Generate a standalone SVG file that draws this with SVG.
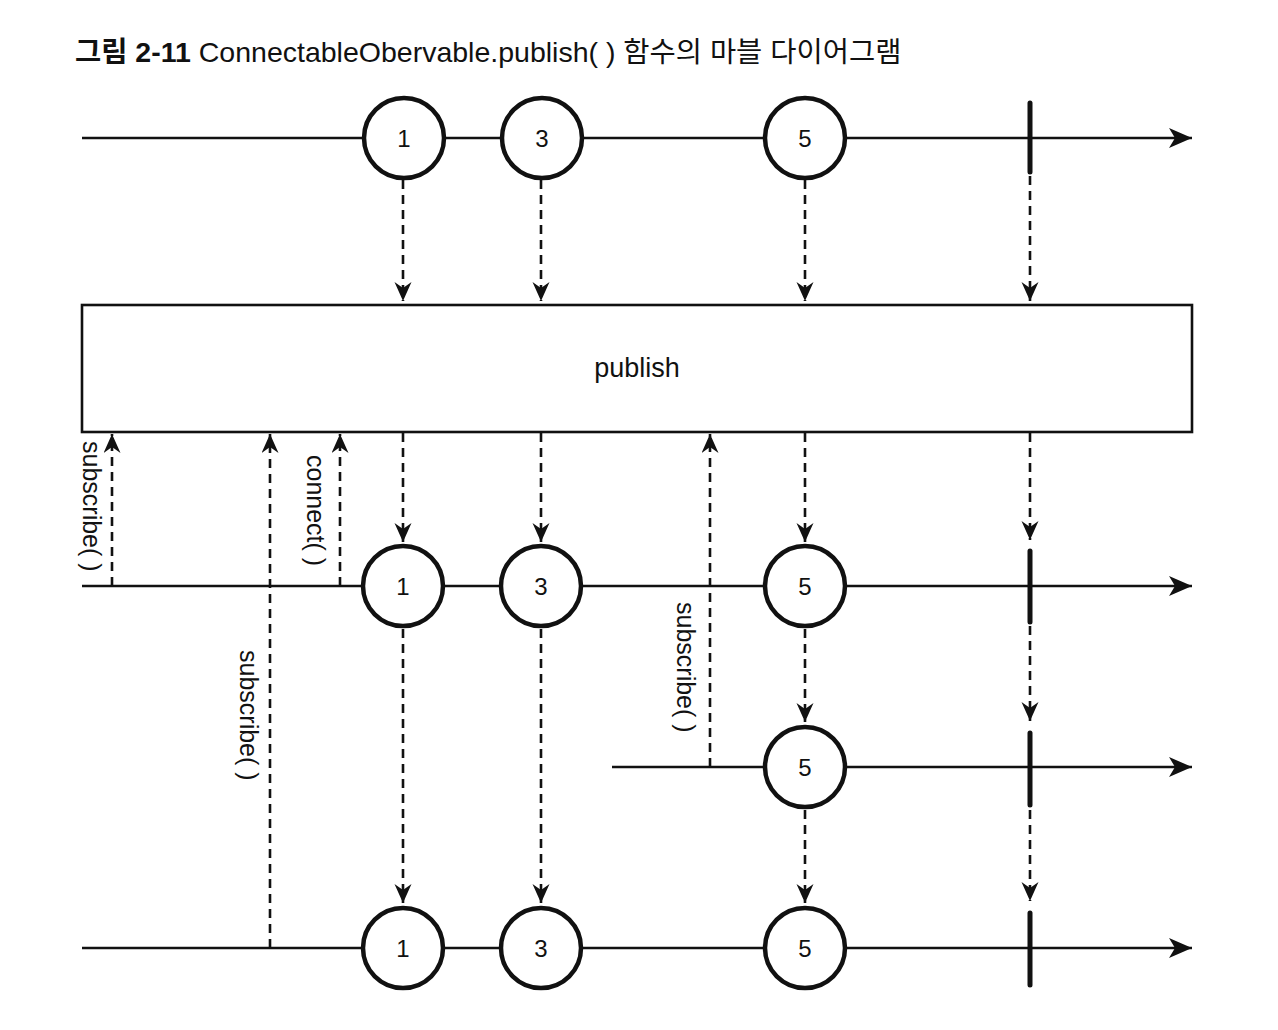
<svg xmlns="http://www.w3.org/2000/svg" width="1278" height="1030" viewBox="0 0 1278 1030">
<style>
text{font-family:"Liberation Sans","Noto Sans CJK KR",sans-serif;fill:#111}
.title{font-size:28.5px}
.tb{font-weight:bold}
.num{font-size:24px;text-anchor:middle;dominant-baseline:central}
.lbl{font-size:25px}
.tl{stroke:#111;stroke-width:2.6;fill:none}
.dash{stroke:#111;stroke-width:2.6;stroke-dasharray:9 6;fill:none}
.marble{fill:#fff;stroke:#111;stroke-width:4.5}
.bar{stroke:#111;stroke-width:5;stroke-linecap:round}
</style>
<defs>
<marker id="tArrow" markerUnits="userSpaceOnUse" markerWidth="26" markerHeight="22" refX="23" refY="10" orient="auto">
<path d="M0,0 L23,10 L0,20 L6,10 Z" fill="#111"/>
</marker>
<marker id="dArrow" markerUnits="userSpaceOnUse" markerWidth="22" markerHeight="20" refX="19" refY="8.5" orient="auto">
<path d="M0,0 L19,8.5 L0,17 L6,8.5 Z" fill="#111"/>
</marker>
</defs>
<rect width="1278" height="1030" fill="#fff"/>
<text class="title" x="75" y="62"><tspan class="tb">그림 2-11</tspan> ConnectableObervable.publish( ) 함수의 마블 다이어그램</text>

<g id="connectors">
<!-- timelines -->
<line class="tl" x1="82" y1="138" x2="1192" y2="138" marker-end="url(#tArrow)"/>
<line class="tl" x1="82" y1="586" x2="1192" y2="586" marker-end="url(#tArrow)"/>
<line class="tl" x1="612" y1="767" x2="1192" y2="767" marker-end="url(#tArrow)"/>
<line class="tl" x1="82" y1="948" x2="1192" y2="948" marker-end="url(#tArrow)"/>
<!-- top row into publish -->
<line class="dash" x1="403" y1="180" x2="403" y2="301" marker-end="url(#dArrow)"/>
<line class="dash" x1="541" y1="180" x2="541" y2="301" marker-end="url(#dArrow)"/>
<line class="dash" x1="805" y1="180" x2="805" y2="301" marker-end="url(#dArrow)"/>
<line class="dash" x1="1030" y1="176" x2="1030" y2="301" marker-end="url(#dArrow)"/>
<!-- publish to row 2 -->
<line class="dash" x1="403" y1="433" x2="403" y2="542" marker-end="url(#dArrow)"/>
<line class="dash" x1="541" y1="433" x2="541" y2="542" marker-end="url(#dArrow)"/>
<line class="dash" x1="805" y1="433" x2="805" y2="542" marker-end="url(#dArrow)"/>
<line class="dash" x1="1030" y1="433" x2="1030" y2="540" marker-end="url(#dArrow)"/>
<!-- row 2 to row 3 -->
<line class="dash" x1="805" y1="629" x2="805" y2="722" marker-end="url(#dArrow)"/>
<line class="dash" x1="1030" y1="626" x2="1030" y2="721" marker-end="url(#dArrow)"/>
<!-- row 2 to row 4 -->
<line class="dash" x1="403" y1="629" x2="403" y2="903" marker-end="url(#dArrow)"/>
<line class="dash" x1="541" y1="629" x2="541" y2="903" marker-end="url(#dArrow)"/>
<!-- row 3 to row 4 -->
<line class="dash" x1="805" y1="810" x2="805" y2="903" marker-end="url(#dArrow)"/>
<line class="dash" x1="1030" y1="810" x2="1030" y2="901" marker-end="url(#dArrow)"/>
<!-- subscribe / connect up arrows -->
<line class="dash" x1="112" y1="586" x2="112" y2="434" marker-end="url(#dArrow)"/>
<line class="dash" x1="270" y1="948" x2="270" y2="434" marker-end="url(#dArrow)"/>
<line class="dash" x1="340" y1="586" x2="340" y2="434" marker-end="url(#dArrow)"/>
<line class="dash" x1="710" y1="767" x2="710" y2="434" marker-end="url(#dArrow)"/>
</g>

<g id="labels">
<text class="lbl" transform="translate(83,441) rotate(90)">subscribe( )</text>
<text class="lbl" transform="translate(307,455) rotate(90)">connect( )</text>
<text class="lbl" transform="translate(240,650) rotate(90)">subscribe( )</text>
<text class="lbl" transform="translate(677,602) rotate(90)">subscribe( )</text>
</g>

<g id="publish">
<rect x="82" y="305" width="1110" height="127" fill="#fff" stroke="#111" stroke-width="2.6"/>
<text x="637" y="377" font-size="27" text-anchor="middle">publish</text>
</g>

<g id="row1">
<g id="r1-m1"><circle class="marble" cx="404" cy="138" r="40"/><text class="num" x="404" y="138">1</text></g>
<g id="r1-m3"><circle class="marble" cx="542" cy="138" r="40"/><text class="num" x="542" y="138">3</text></g>
<g id="r1-m5"><circle class="marble" cx="805" cy="138" r="40"/><text class="num" x="805" y="138">5</text></g>
<line id="r1-end" class="bar" x1="1030" y1="103" x2="1030" y2="172"/>
</g>

<g id="row2">
<g id="r2-m1"><circle class="marble" cx="403" cy="586" r="40"/><text class="num" x="403" y="586">1</text></g>
<g id="r2-m3"><circle class="marble" cx="541" cy="586" r="40"/><text class="num" x="541" y="586">3</text></g>
<g id="r2-m5"><circle class="marble" cx="805" cy="586" r="40"/><text class="num" x="805" y="586">5</text></g>
<line id="r2-end" class="bar" x1="1030" y1="551" x2="1030" y2="622"/>
</g>

<g id="row3">
<g id="r3-m5"><circle class="marble" cx="805" cy="767" r="40"/><text class="num" x="805" y="767">5</text></g>
<line id="r3-end" class="bar" x1="1030" y1="733" x2="1030" y2="805"/>
</g>

<g id="row4">
<g id="r4-m1"><circle class="marble" cx="403" cy="948" r="40"/><text class="num" x="403" y="948">1</text></g>
<g id="r4-m3"><circle class="marble" cx="541" cy="948" r="40"/><text class="num" x="541" y="948">3</text></g>
<g id="r4-m5"><circle class="marble" cx="805" cy="948" r="40"/><text class="num" x="805" y="948">5</text></g>
<line id="r4-end" class="bar" x1="1030" y1="913" x2="1030" y2="985"/>
</g>
</svg>
